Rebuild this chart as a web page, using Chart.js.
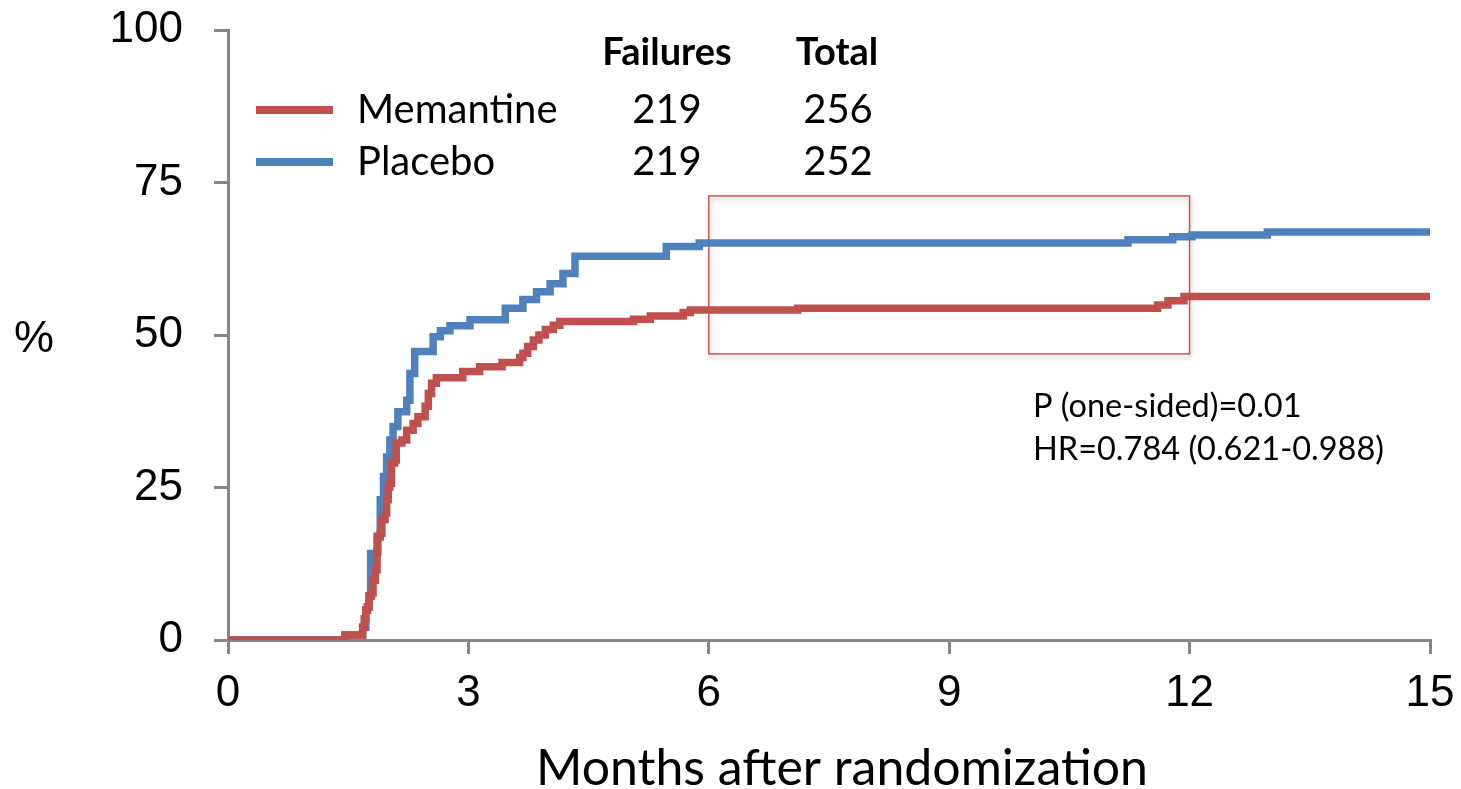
<!DOCTYPE html>
<html><head><meta charset="utf-8">
<script src="https://cdn.jsdelivr.net/npm/chart.js@4/dist/chart.umd.min.js"></script>
<style>html,body{margin:0;padding:0;background:#fff;} canvas{display:block;}</style>
</head><body>
<canvas id="c" width="1461" height="789"></canvas>
<script>
// ---- data ----
const memantineMonths = [0, 1.46, 1.68, 1.70, 1.72, 1.74, 1.76, 1.79, 1.81, 1.84, 1.86, 1.87, 1.90, 1.92, 1.96, 1.98, 2.00, 2.02, 2.04, 2.08, 2.10, 2.17, 2.23, 2.31, 2.37, 2.46, 2.50, 2.54, 2.60, 2.93, 3.14, 3.42, 3.64, 3.68, 3.74, 3.81, 3.88, 3.96, 4.06, 4.14, 5.06, 5.27, 5.68, 5.77, 7.11, 11.60, 11.73, 11.93, 15];
const memantinePct    = [0, 0.8, 2.1, 3.5, 4.9, 5.4, 7.2, 7.7, 9.8, 11.5, 14.5, 16.9, 17.5, 19.7, 20.8, 23.0, 25.1, 25.7, 29.0, 29.5, 32.3, 32.8, 34.4, 35.5, 36.6, 38.3, 40.4, 42.1, 43.0, 44.0, 44.8, 45.5, 46.3, 47.0, 48.1, 49.2, 50.0, 50.9, 51.6, 52.2, 52.6, 53.1, 53.7, 54.1, 54.4, 54.9, 55.6, 56.3, 56.3];
const placeboMonths = [0, 1.46, 1.68, 1.72, 1.74, 1.76, 1.78, 1.86, 1.90, 1.94, 1.98, 2.02, 2.06, 2.12, 2.23, 2.27, 2.33, 2.56, 2.65, 2.77, 3.02, 3.46, 3.68, 3.85, 4.02, 4.18, 4.33, 5.47, 5.88, 11.23, 11.79, 12.03, 12.97, 15];
const placeboPct    = [0, 0.8, 2.1, 4.9, 5.4, 7.2, 14.2, 17.0, 23.0, 26.8, 30.0, 32.8, 35.0, 37.4, 39.3, 43.7, 47.3, 49.7, 50.7, 51.5, 52.5, 54.4, 55.8, 57.1, 58.4, 60.1, 62.9, 64.5, 65.1, 65.6, 66.1, 66.4, 66.9, 66.9];
const xTicks = [0, 3, 6, 9, 12, 15];
const yTicks = [0, 25, 50, 75, 100];
const seriesNames = ['Memantine', 'Placebo'];
const legendHeaders = ['Failures', 'Total'];
const failures = [219, 219];
const totals = [256, 252];
const statLines = ['P (one-sided)=0.01', 'HR=0.784 (0.621-0.988)'];
const xTitle = 'Months after randomization';
const yTitle = '%';
const boxMonths = [6, 12];
const boxPct = [46.9, 72.8];

// ---- styles ----
const RED = '#C0504D', BLUE = '#4F81BD', AXIS = '#868686';
const TICKFONT = {family: '"Liberation Sans", Arial, sans-serif', size: 44};
const CAL = 'Lato, "Open Sans", sans-serif';

const overlay = {
  id: 'overlay',
  beforeDatasetsDraw(chart) {
    const {ctx, scales: {x, y}} = chart;
    const x0 = x.getPixelForValue(boxMonths[0]), x1 = x.getPixelForValue(boxMonths[1]);
    const y0 = y.getPixelForValue(boxPct[1]), y1 = y.getPixelForValue(boxPct[0]);
    ctx.save();
    ctx.shadowColor = 'rgba(0,0,0,0.28)';
    ctx.shadowBlur = 5; ctx.shadowOffsetX = 1; ctx.shadowOffsetY = 3;
    ctx.strokeStyle = '#CC5552'; ctx.lineWidth = 1.5;
    ctx.strokeRect(x0, y0, x1 - x0, y1 - y0);
    ctx.restore();
  },
  afterDraw(chart) {
    const {ctx} = chart;
    ctx.save();
    ctx.fillStyle = '#000';
    ctx.textBaseline = 'middle';
    // y title
    ctx.font = '45px "Liberation Sans", Arial, sans-serif';
    ctx.textAlign = 'center';
    ctx.fillText(yTitle, 34, 340);
    // x title
    ctx.font = '50px ' + CAL;
    ctx.fillText(xTitle, 842, 769);
    // legend table headers
    ctx.font = 'bold 38px ' + CAL;
    ctx.fillText(legendHeaders[0], 667, 53);
    ctx.fillText(legendHeaders[1], 837, 53);
    const rowY = [110, 162];
    const cols = [RED, BLUE];
    for (let i = 0; i < 2; i++) {
      ctx.strokeStyle = cols[i]; ctx.lineWidth = 8; ctx.lineCap = 'butt';
      ctx.beginPath(); ctx.moveTo(256, rowY[i]); ctx.lineTo(333, rowY[i]); ctx.stroke();
      ctx.font = '40px ' + CAL;
      ctx.textAlign = 'left';
      ctx.fillText(seriesNames[i], 357, rowY[i]);
      ctx.textAlign = 'center';
      ctx.fillText(String(failures[i]), 667, rowY[i]);
      ctx.fillText(String(totals[i]), 838, rowY[i]);
    }
    // stats
    ctx.font = '32.5px ' + CAL;
    ctx.textAlign = 'left';
    ctx.fillText(statLines[0], 1033, 407);
    ctx.fillText(statLines[1], 1033, 450);
    ctx.restore();
  }
};

const mk = (xs, ys) => xs.map((m, i) => ({x: m, y: ys[i]}));

new Chart(document.getElementById('c'), {
  type: 'line',
  data: {
    datasets: [
      {label: seriesNames[0], data: mk(memantineMonths, memantinePct), borderColor: RED, borderWidth: 7.5,
       stepped: true, pointRadius: 0, fill: false, borderCapStyle: 'round', borderJoinStyle: 'miter'},
      {label: seriesNames[1], data: mk(placeboMonths, placeboPct), borderColor: BLUE, borderWidth: 7.5,
       stepped: true, pointRadius: 0, fill: false, borderCapStyle: 'round', borderJoinStyle: 'miter'}
    ]
  },
  options: {
    responsive: false,
    animation: false,
    layout: {padding: {top: 30, right: 31, left: 0, bottom: 0}},
    plugins: {legend: {display: false}, tooltip: {enabled: false}},
    scales: {
      x: {
        type: 'linear', min: 0, max: 15,
        afterBuildTicks: s => { s.ticks = xTicks.map(v => ({value: v})); },
        afterFit: s => { s.height = 149; s.paddingLeft = 0; s.paddingRight = 0; s.paddingTop = 0; s.paddingBottom = 0; },
        ticks: {font: TICKFONT, color: '#000', padding: 13, maxRotation: 0},
        grid: {drawOnChartArea: false, drawTicks: true, tickLength: 14, color: AXIS, lineWidth: 3},
        border: {color: AXIS, width: 3}
      },
      y: {
        type: 'linear', min: 0, max: 100,
        afterBuildTicks: s => { s.ticks = yTicks.map(v => ({value: v})); },
        afterFit: s => { s.width = 228; s.paddingLeft = 0; s.paddingRight = 0; s.paddingTop = 0; s.paddingBottom = 0; },
        ticks: {font: TICKFONT, color: '#000', padding: 31},
        grid: {drawOnChartArea: false, drawTicks: true, tickLength: 14, color: AXIS, lineWidth: 3},
        border: {color: AXIS, width: 3}
      }
    }
  },
  plugins: [overlay]
});
</script>
</body></html>
